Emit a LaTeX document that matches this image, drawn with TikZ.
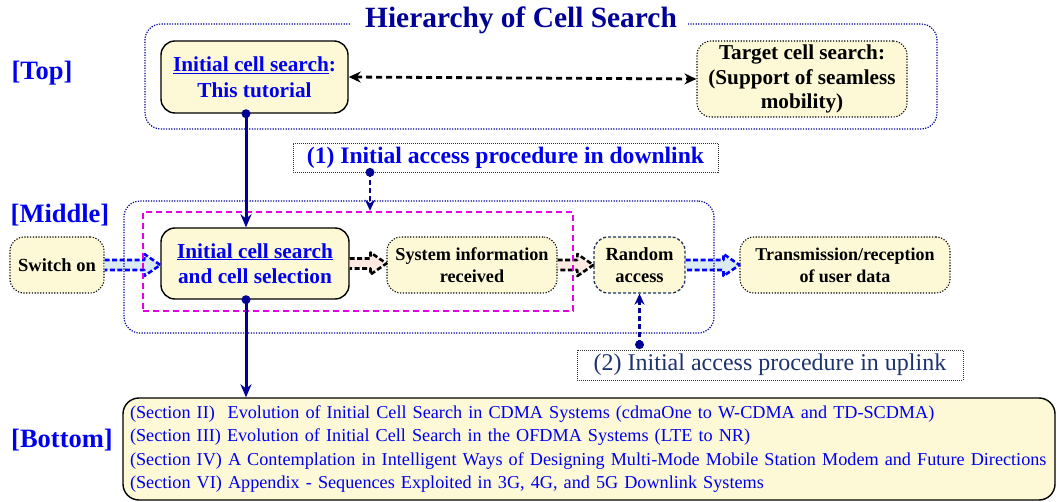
\documentclass[tikz,border=0pt]{standalone}
\usepackage{fontspec}
\setmainfont{Liberation Serif}
\usetikzlibrary{arrows.meta,calc}

\definecolor{navy}{RGB}{0,0,150}
\definecolor{tblue}{RGB}{0,0,240}
\definecolor{ublue}{RGB}{30,50,110}
\definecolor{boxfill}{RGB}{253,249,215}
\definecolor{magframe}{RGB}{230,0,230}
\definecolor{arrblue}{RGB}{218,234,240}
\definecolor{arrpink}{RGB}{252,234,226}
\definecolor{ranavy}{RGB}{30,50,100}

% hollow block arrow between two anchors: from, to, outline colour, fill colour
\newcommand\fatarrow[4]{%
  \path[fill=#4]
    let \p1=(#1), \p2=(#2) in
    (\x1,\y1+5pt) -- (\x2-16pt,\y1+5pt) -- (\x2-16pt,\y1+11pt) -- (\x2,\y1)
    -- (\x2-16pt,\y1-11pt) -- (\x2-16pt,\y1-5pt) -- (\x1,\y1-5pt) -- cycle;
  \path[draw=#3, line width=2.6pt, dash pattern=on 5pt off 2.5pt, line join=round]
    let \p1=(#1), \p2=(#2) in
    (\x1,\y1+5pt) -- (\x2-16pt,\y1+5pt) -- (\x2-16pt,\y1+11pt) -- (\x2,\y1)
    -- (\x2-16pt,\y1-11pt) -- (\x2-16pt,\y1-5pt) -- (\x1,\y1-5pt);}

\begin{document}
\begin{tikzpicture}[x=1pt,y=-1pt,
  box/.style={rounded corners=14pt, fill=boxfill, align=center, inner sep=2pt,
    font=\bfseries\fontsize{18.5}{22}\selectfont},
  solidbox/.style={box, draw=black, line width=1.4pt, text=tblue,
    font=\bfseries\fontsize{21.3}{25.5}\selectfont},
  dotbox/.style={box, draw=black, line width=1.1pt, dash pattern=on 1.2pt off 1.6pt},
  hierframe/.style={draw=navy, line width=1.2pt, dash pattern=on 1.2pt off 1.4pt,
    rounded corners=16pt},
  labelbox/.style={draw=black!80, line width=0.7pt, dash pattern=on 1pt off 1pt,
    inner sep=0pt},
  tier/.style={text=tblue, font=\bfseries\fontsize{26.5}{30}\selectfont},
  mainlink/.style={draw=navy, line width=3pt, -{Stealth[length=13pt,width=11pt]}},
  accesslink/.style={draw=navy, line width=2.8pt, dash pattern=on 5pt off 3pt,
    -{Stealth[length=11pt,width=10pt]}},
  peerlink/.style={draw=black, line width=2.8pt, dash pattern=on 6pt off 4pt,
    {Stealth[length=12pt,width=11pt]}-{Stealth[length=12pt,width=11pt]}},
]
\useasboundingbox (0,0) rectangle (1057,502);

% ---------- top tier ----------
\node[text=navy, font=\bfseries\fontsize{29.4}{32}\selectfont] (title) at (521,20) {Hierarchy of Cell Search};
\draw[hierframe] (350,24) -| (145,129) -| (937,24) -- (688,24);
\node[tier] (ttop) at (42,73) {[Top]};

\node[solidbox, minimum width=187pt, minimum height=72pt] (init1) at (254.5,77)
  {\underline{Initial cell search}:\\This tutorial};
\node[dotbox, minimum width=210pt, minimum height=76pt, font=\bfseries\fontsize{21.2}{24.5}\selectfont]
  (target) at (802,79) {Target cell search:\\(Support of seamless\\mobility)};
\draw[peerlink] (init1.east) -- (target.west);

% ---------- middle tier ----------
\node[labelbox, minimum width=425pt, minimum height=29pt, text=tblue,
  font=\bfseries\fontsize{23.6}{26}\selectfont] (dl) at (505.5,157.5)
  {(1) Initial access procedure in downlink};
\node[tier] (tmid) at (60,215) {[Middle]};

\node[dotbox, minimum width=94pt, minimum height=56pt] (sw) at (57,265) {Switch on};
\node[solidbox, minimum width=188pt, minimum height=71pt] (init2) at (255,263.5)
  {\underline{Initial cell search}\\and cell selection};
\node[dotbox, minimum width=170pt, minimum height=56pt, font=\bfseries\fontsize{18.2}{22}\selectfont]
  (sib) at (472,265) {System information\\received};
\node[box, draw=ranavy, line width=1.3pt, dash pattern=on 3pt off 2pt,
  minimum width=91pt, minimum height=56pt] (ra) at (639.5,265) {Random\\access};
\node[dotbox, minimum width=210pt, minimum height=56pt, font=\bfseries\fontsize{18}{22}\selectfont]
  (data) at (845,265) {Transmission/reception\\of user data};

\fatarrow{sw.east}{init2.west}{blue}{arrblue}
\fatarrow{init2.east}{sib.west}{black}{arrpink}
\fatarrow{sib.east}{ra.west}{black}{arrpink}
\fatarrow{ra.east}{data.west}{blue}{arrblue}

% frames of the middle tier, drawn over the block arrows
\node[hierframe, minimum width=590pt, minimum height=132pt] (midframe) at (419,267) {};
\node[draw=magframe, line width=2.5pt, dash pattern=on 6pt off 4pt,
  minimum width=430pt, minimum height=99pt] (sel) at (358,261.5) {};

\coordinate (dlstart) at ([xshift=-135.5pt]dl.south);
\draw[accesslink] (dlstart) -- (dlstart |- sel.north);
\fill[navy] (dlstart) circle (4.5pt);

\node[labelbox, minimum width=386pt, minimum height=30pt, text=ublue,
  font=\fontsize{24}{27}\selectfont] (ul) at (770,365)
  {(2) Initial access procedure in uplink};
\coordinate (ulstart) at ([yshift=5pt]ul.north -| ra.south);
\draw[accesslink] (ulstart) -- (ra.south);
\fill[navy] (ulstart) circle (4.5pt);

% ---------- links between tiers ----------
\coordinate (c1) at ([xshift=-8.5pt]init1.south);
\draw[mainlink] (c1) -- (c1 |- init2.north);
\fill[navy] (c1) circle (4.5pt);

% ---------- bottom tier ----------
\node[tier] (tbot) at (62,440) {[Bottom]};
\node[draw=black, line width=1.4pt, fill=boxfill, rounded corners=16pt,
  minimum width=932pt, minimum height=102pt, text width=918pt, align=left,
  inner xsep=7pt, text=tblue, font=\fontsize{18.2}{23.3}\selectfont] (sec) at (589,449)
  {(Section II)\hspace{0.7em}Evolution of Initial Cell Search in CDMA Systems (cdmaOne to W-CDMA and TD-SCDMA)\\
   (Section III) Evolution of Initial Cell Search in the OFDMA Systems (LTE to NR)\\
   (Section IV) A Contemplation in Intelligent Ways of Designing Multi-Mode Mobile Station Modem and Future Directions\\
   (Section VI) Appendix - Sequences Exploited in 3G, 4G, and 5G Downlink Systems};

\coordinate (c2) at ([xshift=-9pt]init2.south);
\draw[mainlink] (c2) -- (c2 |- sec.north);
\fill[navy] (c2) circle (4.5pt);
\end{tikzpicture}
\end{document}
